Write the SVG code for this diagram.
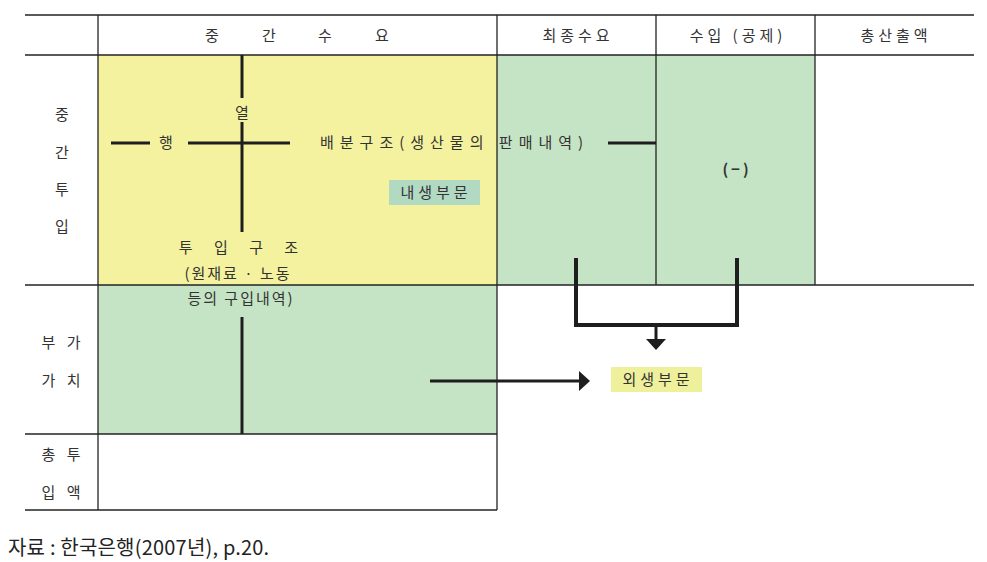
<svg xmlns="http://www.w3.org/2000/svg" width="987" height="562" viewBox="0 0 987 562">
<defs>
<style>
text{font-family:"Noto Sans CJK KR","Noto Sans",sans-serif;fill:#333;font-size:15px}
.c{text-anchor:middle}
.w{letter-spacing:4px}
.grid{stroke:#222;stroke-width:1.3;fill:none}
.bar{stroke:#1e1e1e;stroke-width:3;fill:none}
.bar4{stroke:#1e1e1e;stroke-width:4;fill:none}
.head{fill:#1e1e1e}
</style>
</defs>
<rect width="987" height="562" fill="#fff"/>
<g id="cells">
<rect x="98" y="55" width="399" height="230" fill="#f4f29e"/>
<rect x="497" y="55" width="318" height="230" fill="#c5e3c5"/>
<rect x="98" y="285" width="399" height="149" fill="#c5e3c5"/>
</g>
<g id="grid" class="grid">
<line x1="25" y1="15" x2="974" y2="15"/>
<line x1="25" y1="55" x2="974" y2="55"/>
<line x1="25" y1="285" x2="974" y2="285"/>
<line x1="25" y1="434" x2="497" y2="434"/>
<line x1="25" y1="510" x2="497" y2="510"/>
<line x1="98" y1="15" x2="98" y2="510"/>
<line x1="497" y1="15" x2="497" y2="510"/>
<line x1="656" y1="15" x2="656" y2="285"/>
<line x1="815" y1="15" x2="815" y2="285"/>
</g>
<g id="headers">
<text x="212" y="41" class="c">중</text>
<text x="269" y="41" class="c">간</text>
<text x="325" y="41" class="c">수</text>
<text x="382" y="41" class="c">요</text>
<text x="578" y="41" class="c w">최종수요</text>
<text x="738" y="41" class="c w">수입 (공제)</text>
<text x="896" y="41" class="c w">총산출액</text>
</g>
<g id="rowlabels">
<text x="62" y="120" class="c">중</text>
<text x="62" y="158" class="c">간</text>
<text x="62" y="195" class="c">투</text>
<text x="62" y="232" class="c">입</text>
<text x="63" y="348" class="c w">부 가</text>
<text x="63" y="386" class="c w">가 치</text>
<text x="63" y="460" class="c w">총 투</text>
<text x="63" y="498" class="c w">입 액</text>
</g>
<g id="connectors">
<line class="bar" x1="242" y1="55" x2="242" y2="98"/>
<line class="bar" x1="242" y1="122" x2="242" y2="232"/>
<line class="bar" x1="111" y1="143" x2="150" y2="143"/>
<line class="bar" x1="188" y1="143" x2="290" y2="143"/>
<line class="bar" x1="608" y1="143" x2="656" y2="143"/>
<line class="bar" x1="242" y1="317" x2="242" y2="434"/>
<line class="bar" x1="430" y1="381" x2="581" y2="381"/>
<polygon class="head" points="579,371 590,381 579,391"/>
<polyline class="bar4" points="576,258 576,325 737,325 737,258"/>
<line class="bar" x1="656" y1="325" x2="656" y2="341"/>
<polygon class="head" points="646,339 666,339 656,350"/>
</g>
<g id="texts">
<text x="242" y="118" class="c">열</text>
<text x="166" y="148" class="c">행</text>
<text x="320" y="148" letter-spacing="6">배분구조(생산물의 판매내역)</text>
<text x="243" y="253" class="c" letter-spacing="9">투 입 구 조</text>
<text x="238" y="279" class="c" letter-spacing="2">(원재료 · 노동</text>
<text x="241" y="304" class="c" letter-spacing="2">등의 구입내역)</text>
<text x="737" y="175" class="c" letter-spacing="3" font-weight="bold">(−)</text>
</g>
<g id="naesaeng">
<rect x="389" y="180" width="91" height="25" fill="#b2d9c2"/>
<text x="436" y="198" class="c w">내생부문</text>
</g>
<g id="oesaeng">
<rect x="611" y="367" width="91" height="25" fill="#eef09c"/>
<text x="658" y="385" class="c w">외생부문</text>
</g>
<text x="8" y="555" style="font-size:20px;fill:#222" letter-spacing="0.2">자료 : 한국은행(2007년), p.20.</text>
</svg>
